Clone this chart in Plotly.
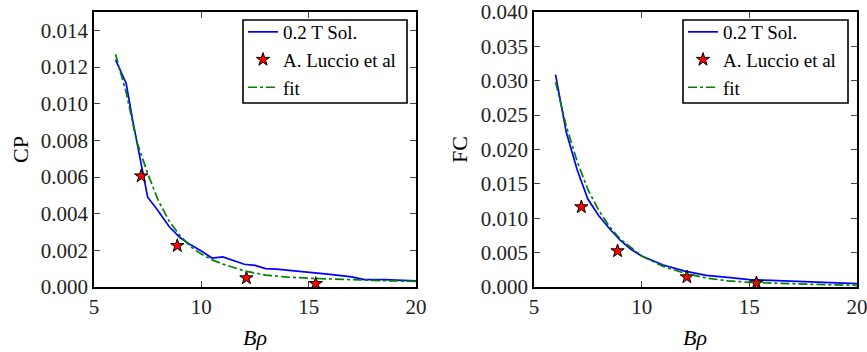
import plotly.graph_objects as go

# ---- data ----
cp_sol_x = [6.0, 6.5, 6.8, 7.2, 7.5, 7.9, 8.5, 9.0, 9.5, 10.0, 10.5, 11.0, 11.5, 12.0, 12.5, 13.0, 13.5, 14.5, 15.5, 16.0, 17.0, 17.6, 18.5, 20.0]
cp_sol_y = [0.0124, 0.0111, 0.0091, 0.0066, 0.0049, 0.0043, 0.0033, 0.0027, 0.0023, 0.00196, 0.00158, 0.00164, 0.00145, 0.00124, 0.00118, 0.0010, 0.00098, 0.00087, 0.00073, 0.00069, 0.00055, 0.0004, 0.0004, 0.00033]

cp_fit_x = [6.0, 6.5, 7.0, 7.5, 8.0, 8.5, 9.0, 9.5, 10.0, 10.5, 11.0, 12.0, 13.0, 14.0, 15.0, 16.0, 17.0, 18.0, 19.0, 20.0]
cp_fit_y = [0.0127, 0.0106, 0.0079, 0.0062, 0.0047, 0.0036, 0.0028, 0.0022, 0.0018, 0.00148, 0.00125, 0.00088, 0.00065, 0.00054, 0.00048, 0.00043, 0.00039, 0.00036, 0.00033, 0.00031]

fc_sol_x = [6.0, 6.5, 7.0, 7.5, 8.0, 8.5, 9.0, 9.5, 10.0, 11.0, 12.0, 13.0, 14.0, 15.0, 16.0, 17.0, 18.0, 19.0, 20.0]
fc_sol_y = [0.0309, 0.0225, 0.0171, 0.0128, 0.0104, 0.0085, 0.0068, 0.0055, 0.0045, 0.0032, 0.0023, 0.0017, 0.0014, 0.00108, 0.00095, 0.00084, 0.00072, 0.0006, 0.00048]

fc_fit_x = [6.0, 6.5, 7.0, 7.5, 8.0, 8.5, 9.0, 9.5, 10.0, 11.0, 12.0, 13.0, 14.0, 15.0, 16.0, 17.0, 18.0, 19.0, 20.0]
fc_fit_y = [0.0298, 0.0234, 0.0183, 0.0142, 0.0112, 0.0088, 0.0070, 0.0057, 0.0045, 0.0030, 0.0020, 0.0013, 0.0009, 0.00068, 0.00055, 0.00045, 0.00038, 0.0003, 0.00024]

luccio_x = [7.2, 8.88, 12.1, 15.33]
luccio_cp = [0.00605, 0.00225, 0.00049, 0.00018]
luccio_fc = [0.01164, 0.00524, 0.00145, 0.00058]

cp_ticks = [0.0, 0.002, 0.004, 0.006, 0.008, 0.010, 0.012, 0.014]
fc_ticks = [0.0, 0.005, 0.010, 0.015, 0.020, 0.025, 0.030, 0.035, 0.040]
x_ticks = [5, 10, 15, 20]

# ---- figure ----
W, H = 867, 352
FONT = "'Liberation Serif', 'DejaVu Serif', serif"
BLUE = "#0000ff"
GREEN = "#008000"

fig = go.Figure()

def add_panel(xa, ya, leg, sx, sy, fx, fy, ly):
    fig.add_trace(go.Scatter(x=sx, y=sy, mode="lines", name="0.2 T Sol.",
                             line=dict(color=BLUE, width=1.7), xaxis=xa, yaxis=ya, legend=leg))
    fig.add_trace(go.Scatter(x=luccio_x, y=ly, mode="markers", name="A. Luccio et al",
                             marker=dict(symbol="star", size=10, color="red",
                                         line=dict(color="black", width=1)),
                             xaxis=xa, yaxis=ya, legend=leg))
    fig.add_trace(go.Scatter(x=fx, y=fy, mode="lines", name="fit",
                             line=dict(color=GREEN, width=1.7, dash="dashdot"),
                             xaxis=xa, yaxis=ya, legend=leg))

add_panel("x", "y", "legend", cp_sol_x, cp_sol_y, cp_fit_x, cp_fit_y, luccio_cp)
add_panel("x2", "y2", "legend2", fc_sol_x, fc_sol_y, fc_fit_x, fc_fit_y, luccio_fc)

ydom = [(H - 287) / H, (H - 12) / H]
axis_common = dict(showline=True, mirror="ticks", linecolor="black", linewidth=1.6,
                   ticks="inside", ticklen=6, tickcolor="#444", tickwidth=1,
                   showgrid=False, zeroline=False, automargin=False,
                   ticklabeloverflow="allow",
                   tickfont=dict(family=FONT, size=21, color="#222"))

leg_common = dict(xanchor="left", yanchor="top", bgcolor="rgba(0,0,0,0)",
                  borderwidth=0, tracegroupgap=0,
                  font=dict(family=FONT, size=19, color="black"))

fig.update_layout(
    width=W, height=H,
    margin=dict(l=0, r=0, t=0, b=0),
    paper_bgcolor="white", plot_bgcolor="white",
    font=dict(family=FONT, color="black"),
    xaxis=dict(domain=[94 / W, 416 / W], range=[5, 20], tickvals=x_ticks,
               anchor="y", **axis_common),
    yaxis=dict(domain=ydom, range=[0, 0.015], tickvals=cp_ticks,
               tickformat=".3f", anchor="x", **axis_common),
    xaxis2=dict(domain=[534 / W, 857 / W], range=[5, 20], tickvals=x_ticks,
                anchor="y2", **axis_common),
    yaxis2=dict(domain=ydom, range=[0, 0.040], tickvals=fc_ticks,
                tickformat=".3f", anchor="x2", **axis_common),
    legend=dict(x=243 / W, y=1 - 13 / H, **leg_common),
    legend2=dict(x=683 / W, y=1 - 13 / H, **leg_common),
    showlegend=True,
)

# legend frames
for x0, x1 in [(243, 407), (683, 848)]:
    fig.add_shape(type="rect", xref="paper", yref="paper",
                  x0=x0 / W, x1=x1 / W, y0=1 - 103 / H, y1=1 - 20 / H,
                  line=dict(color="black", width=1.6), fillcolor="white", layer="above")

ann_font = dict(family=FONT, size=22, color="black")
for xc, label in [(20, "CP"), (459, "FC")]:
    fig.add_annotation(x=xc / W, y=1 - 150 / H, xref="paper", yref="paper", text=label,
                       textangle=-90, showarrow=False, font=ann_font,
                       xanchor="center", yanchor="middle")
for xc in [255, 695]:
    fig.add_annotation(x=xc / W, y=1 - 337 / H, xref="paper", yref="paper", text="<i>Bρ</i>",
                       showarrow=False, font=ann_font, xanchor="center", yanchor="middle")

fig.write_html("out.html", config={"displayModeBar": False},
               post_script="document.body.style.margin='0';document.body.style.overflow='hidden';")
